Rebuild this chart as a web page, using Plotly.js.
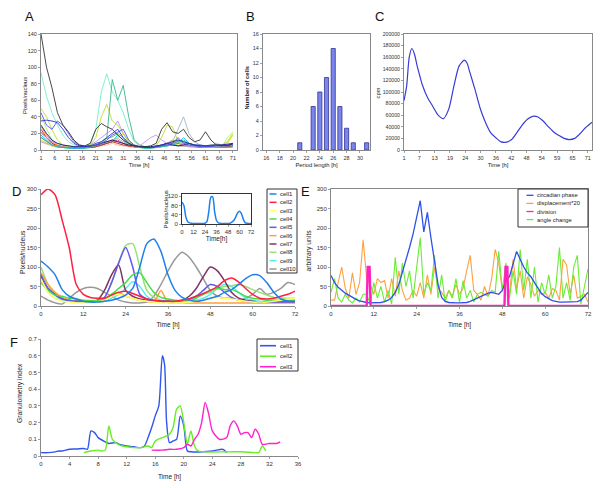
<!DOCTYPE html>
<html><head><meta charset="utf-8">
<script src="https://cdn.plot.ly/plotly-3.0.1.min.js"></script>
<style>html,body{margin:0;padding:0;background:#fff}#chart{width:600px;height:488px}</style>
</head><body><div id="chart"></div>
<script>
// ---------- Panel A: individual cells (pixels/nucleus) ----------
const aTime = [1,3,5,7,9,11,13,15,17,19,21,23,25,27,29,31,33,35,37,39,41,43,45,47,49,51,53,55,57,59,61,63,65,67,69,71];
const aBlack = [140,100,75,45,30,22, 12,6,5,8,25,32, 28,25,18,12,8,5, 4,4,5,8,25,33, 22,20,25,15,10,12, 22,12,6,5,5,8];
const aTeal = [15,10,6,4,3,3, 3,3,3,4,5,8, 15,85,60,78,40,12, 6,4,3,3,4,5, 8,10,12,8,6,5, 4,4,3,3,3,4];
const aAqua = [93,65,45,30,18,10, 6,5,5,8,25,70, 92,70,60,45,25,10, 5,4,3,3,4,6, 8,10,8,6,5,4, 4,3,3,3,3,3];
const aYellowGreen = [50,40,25,12,6,4, 3,3,3,6,15,40, 55,35,30,20,10,6, 4,3,3,5,15,30, 28,10,8,6,5,5, 4,5,8,6,10,20];
const aSteel = [10,8,6,5,4,4, 3,3,3,4,6,8, 10,12,14,10,6,4, 3,3,3,4,6,8, 10,25,40,20,10,6, 5,4,4,4,5,6];
const aViolet = [20,15,10,8,6,5, 4,4,5,6,10,15, 20,25,35,20,10,6, 5,10,15,18,12,8, 6,5,5,4,4,4, 3,3,3,4,5,6];
const aBlue1 = [35,36,35,33,25,15, 8,5,4,5,8,10, 15,20,25,15,8,5, 4,3,3,4,6,8, 10,12,10,8,6,6, 5,5,6,6,6,7];
const aBlue2 = [45,30,25,35,30,20, 10,6,4,5,6,8, 12,18,22,25,12,6, 4,3,3,4,5,6, 8,15,8,6,5,4, 4,4,5,5,6,6];
const aNavy = [30,20,12,8,6,5, 4,4,4,5,6,8, 10,12,10,8,6,5, 4,4,4,5,6,8, 6,5,6,8,6,5, 5,6,6,6,7,8];
const aRed = [25,15,8,5,4,3, 3,3,3,3,4,6, 8,10,8,6,5,4, 3,3,3,4,5,6, 8,10,8,6,5,4, 4,3,3,3,4,5];
const aOrange = [28,18,10,6,4,3, 3,3,3,4,5,8, 10,12,10,8,5,4, 3,3,3,4,6,8, 12,10,8,6,5,4, 4,4,3,4,5,8];
const aCyan = [18,12,6,4,3,2, 2,2,2,3,4,6, 8,10,18,12,6,4, 3,2,2,3,4,5, 6,8,15,8,5,4, 3,3,3,3,3,4];
const aGreen = [22,15,8,5,4,3, 3,3,3,4,6,10, 14,16,20,15,8,5, 4,3,3,4,6,8, 10,12,10,8,6,5, 4,4,4,4,5,6];
const aMagenta = [15,10,6,4,3,3, 2,2,3,3,4,6, 8,10,12,8,5,4, 3,3,3,4,5,7, 9,8,6,5,4,3, 3,3,3,3,4,5];
const aYellow = [12,8,5,3,3,2, 2,2,2,3,4,6, 8,12,15,20,10,5, 3,2,2,3,4,6, 8,6,5,4,3,3, 3,3,3,3,8,18];
const aLightGreen = [40,25,12,6,4,3, 3,3,3,4,5,7, 9,10,8,6,5,4, 3,3,3,3,4,5, 6,5,4,4,3,3, 3,3,3,4,15,22];
const aPink = [10,7,5,4,3,3, 3,3,3,3,4,5, 6,8,6,5,4,3, 3,3,3,3,4,5, 6,8,6,5,4,4, 3,3,3,4,10,18];
const aTicks = [1,6,11,16,21,26,31,36,41,46,51,56,61,66,71];

// ---------- Panel B: period length histogram ----------
const bPeriod = [21,23,24,25,26,27,28,29,31];
const bCells = [1,6,8,10,14,6,3,1,1];

// ---------- Panel C: luminescence (cpm) ----------
const cTime = [1,2,3,4,5,6,7,8,10,12,14,16,18,20,22,24,25,26,28,30,32,34,36,38,40,42,44,46,48,50,52,54,56,58,60,62,64,66,68,70,72.6];
const cCpm = [85000,110000,160000,175000,165000,145000,128000,112000,90000,75000,60000,54000,70000,110000,145000,155000,150000,135000,105000,72000,48000,30000,21000,14000,13500,18000,30000,43000,53000,58000,57000,50000,40000,31000,25000,20000,18000,20000,28000,38000,48000];
const cTickLabels = ['1','7','13','19','24','30','36','42','48','54','59','65','71'];

// ---------- Panel D: ten cells ----------
const dTime = [0,2,4,6,8,10,12,14,16,18,20,22,24,26,28,30,32,34,36,38,40,42,44,46,48,50,52,54,56,58,60,62,64,66,68,70,72];
const dNames = ['cell1','cell2','cell3','cell4','cell5','cell6','cell7','cell8','cell9','cell10'];
const dCell1 = [115,100,80,42,25,18,12,10,10,12, 15,20,28,45,100,160,172,140,80,40, 22,15,12,15,20,25,35,42,55,70, 80,78,60,35,18,13,12];
const dCell2 = [285,300,285,220,150,55,30,22,20,20, 28,35,38,32,25,18,15,12,12,12, 15,18,25,32,40,50,65,72,62,45, 30,20,18,20,25,30,38];
const dCell3 = [70,35,20,12,10,8,8,8,10,15, 25,30,25,20,15,12,10,8,8,8, 8,10,12,15,20,22,20,18,15,12, 10,10,10,12,15,18,20];
const dCell4 = [60,40,28,25,20,18,15,14,14,18, 30,45,60,80,85,60,35,22,18,15, 14,14,20,30,40,45,42,42,35,25, 20,18,15,15,15,15,15];
const dCell5 = [80,45,28,18,14,12,12,12,14,22, 60,110,150,100,30,18,14,12,12,12, 14,18,25,40,55,50,35,22,15,12, 10,10,10,10,10,10,10];
const dCell6 = [85,55,35,22,15,12,10,10,10,15, 30,35,25,20,15,12,10,40,8,8, 8,8,8,8,8,8,8,8,8,8, 8,8,8,8,8,8,8];
const dCell7 = [75,45,30,20,15,12,12,12,15,40, 80,105,40,25,18,15,12,12,12,12, 15,25,45,75,100,90,65,35,20,15, 12,10,10,10,10,10,10];
const dCell8 = [100,55,30,20,15,12,10,10,12,20, 60,110,155,160,100,40,22,15,12,12, 14,18,25,30,35,45,50,52,55,50, 42,35,28,22,20,20,20];
const dCell9 = [70,35,20,15,12,10,10,10,10,12, 20,30,45,62,50,25,15,12,10,10, 10,12,15,20,30,45,55,50,35,20, 15,12,10,10,10,10,10];
const dCell10 = [25,15,8,5,20,35,45,48,45,35, 25,15,10,8,8,10,25,55,90,120, 138,125,100,70,40,25,20,20,15,20, 30,45,30,35,45,60,55];
const dInset = [95,80,30,10,5,3,2,2,2,2, 2,2,3,10,55,115,118,55,15,5, 3,2,2,2,2,3,8,15,30,48, 55,45,20,5,3,2,2];

// ---------- Panel E: single cell parameters ----------
const eTime = [0,1,2,3,4,5,6,7,8,9,10,11,12,13,14,15,16,17,18,19,20,21,22,23,24,25,26,27,28,29,30,31,32,33,34,35,36,37,38,39,40,41,42,43,44,45,46,47,48,49,50,51,52,53,54,55,56,57,58,59,60,61,62,63,64,65,66,67,68,69,70,71,72];
const eNames = ['circadian phase','displacement*20','division','angle change'];
const ePhase = [78,60,48,40,33,28,22,17,13,10, 9,8,8,8,9,11,15,22,35,55, 85,115,150,185,230,270,190,240,175,110, 55,22,12,9,8,8,8,8,9,12, 16,20,25,30,33,35,32,30,40,65, 75,110,140,120,100,85,75,60,45,32, 24,18,14,12,10,10,10,10,10,11, 15,25,35];
const eDisplacement = [15,15,60,100,45,20,85,30,60,170, 70,55,30,70,60,65,20,70,25,90, 40,15,20,40,25,60,20,80,30,100, 45,35,20,40,25,55,30,45,90,130, 40,30,15,50,25,70,145,110,40,70, 30,120,45,90,20,75,55,25,40,30, 35,20,45,40,15,120,105,30,80,20, 25,30,10];
const eAngle = [35,70,20,10,30,15,8,20,10,30, 30,5,60,20,50,10,40,5,125,30, 110,50,90,20,100,175,30,60,40,130, 20,80,10,40,20,70,10,65,20,40, 10,30,35,30,25,40,35,140,40,110, 20,90,30,145,40,120,20,100,10,60, 30,80,20,50,150,20,60,15,100,130, 5,50,95];
const eDivTime = [0,10,10.3,10.8,11.1,48.6,48.9,49.4,49.7,72];
const eDivision = [0,0,100,100,0,0,100,100,0,0];

// ---------- Panel F: granulometry index ----------
const fNames = ['cell1','cell2','cell3'];
const f1Time = [0,1,2,2.5,3,4,5,6,6.5,7,7.5,8,9,9.5,10.5,11,12,13,14,14.5,15,15.5,16,16.5,17,17.3,17.6,18,18.5,19,19.5,20,20.5,21,24,25.5,26];
const f1Index = [0.02,0.02,0.025,0.03,0.03,0.04,0.042,0.045,0.04,0.15,0.14,0.11,0.085,0.075,0.08,0.07,0.06,0.055,0.05,0.06,0.11,0.17,0.24,0.3,0.6,0.55,0.2,0.08,0.09,0.1,0.24,0.18,0.03,0.025,0.03,0.04,0.02];
const f2Time = [6,7,8,8.5,9,9.5,10,11,12,13,14,15,15.5,16,17,18,18.5,19,19.5,20,20.5,21,21.5,22,26,28,30,30.5,31,31.5];
const f2Index = [0.02,0.03,0.035,0.03,0.035,0.18,0.1,0.065,0.055,0.05,0.05,0.06,0.05,0.09,0.11,0.13,0.17,0.28,0.3,0.2,0.07,0.15,0.06,0.03,0.025,0.025,0.02,0.02,0.06,0.03];
const f3Time = [15.5,17,18,19,20,20.5,21,21.5,22,22.5,23,23.5,24,25,26,26.5,27,27.5,28,28.5,29,29.5,30,30.5,31,32,33,33.5];
const f3Index = [0.035,0.035,0.04,0.04,0.05,0.07,0.06,0.1,0.13,0.2,0.32,0.25,0.15,0.1,0.11,0.18,0.21,0.18,0.13,0.14,0.14,0.11,0.16,0.13,0.07,0.075,0.075,0.085];

// ================= build =================
const W = 600, H = 488;
const FONT = 'Liberation Sans, Arial, sans-serif';
const px = p => p / W;
const py = p => 1 - p / H;

const traces = [];
function line(x, y, color, width, xa, ya, shape) {
  traces.push({type:'scatter', mode:'lines', x, y, xaxis:xa, yaxis:ya, showlegend:false,
    line:{color, width, shape: shape || 'linear', smoothing: 0.7}, hoverinfo:'skip'});
}

// A
const aSeries = [
  [aPink,'#ffb0a0'],[aLightGreen,'#a8f07a'],[aYellow,'#e6e600'],[aMagenta,'#d040d0'],[aGreen,'#30c030'],
  [aCyan,'#00c0f0'],[aOrange,'#ff8a00'],[aRed,'#e02020'],[aViolet,'#c090ff'],[aSteel,'#a0b4c4'],
  [aYellowGreen,'#b8e030'],[aAqua,'#70f0c8'],[aTeal,'#3cb48c'],[aNavy,'#151570'],[aBlue2,'#5050ff'],
  [aBlue1,'#3030c8'],[aBlack,'#333333']
];
aSeries.forEach(([y,c]) => line(aTime, y, c, 0.9, 'x', 'y'));

// B
traces.push({type:'bar', x:bPeriod, y:bCells, xaxis:'x2', yaxis:'y2', width:0.62, showlegend:false,
  marker:{color:'#7b86ec', line:{color:'#343494', width:0.8}}, hoverinfo:'skip'});

// C
line(cTime, cCpm, '#3a3ad8', 1.2, 'x3', 'y3', 'spline');

// D
const dSeries = [dCell1,dCell2,dCell3,dCell4,dCell5,dCell6,dCell7,dCell8,dCell9,dCell10];
const dColors = ['#1e80f0','#ff2040','#ffff66','#44e044','#6655ee','#ffa040','#803366','#99e077','#55eeee','#999999'];
for (let i = dSeries.length - 1; i >= 0; i--) line(dTime, dSeries[i], dColors[i], 1.5, 'x4', 'y4', 'spline');
line(dTime, dInset, '#1e80f0', 1.5, 'x5', 'y5', 'spline');

// E
const eColors = ['#3050e8','#ffa040','#ff20c0','#66ee33'];
line(eTime, eDisplacement, eColors[1], 1.1, 'x6', 'y6');
line(eTime, eAngle, eColors[3], 1.1, 'x6', 'y6');
line(eTime, ePhase, eColors[0], 1.3, 'x6', 'y6');
line(eDivTime, eDivision, eColors[2], 2.4, 'x6', 'y6');

// F
const fColors = ['#3355ee','#66ee22','#ff22cc'];
line(f1Time, f1Index, fColors[0], 1.4, 'x7', 'y7', 'spline');
line(f2Time, f2Index, fColors[1], 1.4, 'x7', 'y7', 'spline');
line(f3Time, f3Index, fColors[2], 1.4, 'x7', 'y7', 'spline');

// axes
const tf = s => ({family:FONT, size:s, color:'#333'});
function axis(d0, d1, isX, fs, extra) {
  return Object.assign({
    domain: isX ? [px(d0), px(d1)] : [py(d1), py(d0)],
    showgrid:false, zeroline:false, showline:true, linecolor:'#888', linewidth:1,
    ticks:'outside', ticklen:2, tickcolor:'#888', tickwidth:0.8,
    tickfont:tf(fs), fixedrange:true
  }, extra);
}
const ttl = (t, s, fs) => ({text:t, font:{family:FONT, size:fs || 6, color:'#222'}, standoff: s});

const cTickVals = cTickLabels.map((_, i) => 1 + i * 70 / 12);

const layout = {
  width:W, height:H, margin:{l:0,r:0,t:0,b:0}, paper_bgcolor:'#fff', plot_bgcolor:'rgba(0,0,0,0)',
  font:{family:FONT, size:6, color:'#222'}, showlegend:false,
  xaxis: axis(41,237,true,5.5,{anchor:'y', range:[1,72.5], tickvals:aTicks, mirror:true, title:ttl('Time [h]',3,5.8)}),
  yaxis: axis(34,150,false,5.5,{anchor:'x', range:[0,140], dtick:20, mirror:true}),
  xaxis2: axis(263,370,true,5.5,{anchor:'y2', range:[15.5,31.5], tick0:16, dtick:2, mirror:true, title:ttl('Period length [h]',3,5.8)}),
  yaxis2: axis(34,150,false,5.5,{anchor:'x2', range:[0,16], dtick:2, mirror:true}),
  xaxis3: axis(404,592,true,5.5,{anchor:'y3', range:[1,72.6], tickvals:cTickVals, ticktext:cTickLabels, mirror:true, title:ttl('Time [h]',3,5.8)}),
  yaxis3: axis(34,150,false,5.2,{anchor:'x3', range:[0,200000], dtick:20000, tickformat:'d', mirror:true}),
  xaxis4: axis(41,295,true,6,{anchor:'y4', range:[0,72], dtick:12, title:ttl('Time [h]',6,6.5)}),
  yaxis4: axis(189,306,false,6,{anchor:'x4', range:[0,300], dtick:50}),
  xaxis5: axis(182,251,true,6,{anchor:'y5', range:[0,72], dtick:12, mirror:true, linecolor:'#333', title:ttl('Time[h]',1,6.5)}),
  yaxis5: axis(194,224,false,6,{anchor:'x5', range:[0,130], tickvals:[0,40,80,120], mirror:true, linecolor:'#333'}),
  xaxis6: axis(331,588,true,6,{anchor:'y6', range:[0,72], dtick:12, mirror:true, title:ttl('Time [h]',6,6.5)}),
  yaxis6: axis(189,306,false,6,{anchor:'x6', range:[0,300], dtick:50, mirror:true}),
  xaxis7: axis(41,298,true,6,{anchor:'y7', range:[0,36], dtick:4, title:ttl('Time [h]',8,6.5)}),
  yaxis7: axis(339,456,false,6,{anchor:'x7', range:[0,0.7], dtick:0.1}),
  shapes:[], annotations:[]
};

// y-axis titles (rotated text placed beside each axis)
const yTitles = [
  ['Pixels/nucleus',25,96,5.8],['<b>Number of cells</b>',246.5,88,5.8],['cpm',377.5,93,5.8],
  ['Pixels/nucleus',22,252,6.8],['Pixels/nucleus',165.5,210,6],['arbitrary units',308.5,251,6.8],
  ['Granulometry index',20,393,6.8]
];
yTitles.forEach(([t,x,y,s]) => layout.annotations.push({text:t, x:px(x), y:py(y), xref:'paper', yref:'paper',
  showarrow:false, textangle:-90, xanchor:'center', yanchor:'middle', font:{family:FONT, size:s, color:'#222'}}));

// panel letters
const letters = [['A',29.5,16.5],['B',250.5,16.5],['C',379,16.5],['D',16,191.5],['E',305.5,191.5],['F',13.5,342.5]];
letters.forEach(([t,x,y]) => layout.annotations.push({text:t, x:px(x), y:py(y), xref:'paper', yref:'paper',
  showarrow:false, xanchor:'center', yanchor:'middle', font:{family:FONT, size:13, color:'#111'}}));

// manual legends
function legend(names, colors, box, rowY0, dy, sx0, sx1, tx, lw, fs) {
  layout.shapes.push({type:'rect', xref:'paper', yref:'paper', x0:px(box[0]), x1:px(box[1]), y0:py(box[3]), y1:py(box[2]),
    line:{color:'#333', width:1}, fillcolor:'#fff', layer:'above'});
  names.forEach((n, i) => {
    const y = rowY0 + i * dy;
    layout.shapes.push({type:'line', xref:'paper', yref:'paper', x0:px(sx0), x1:px(sx1), y0:py(y), y1:py(y),
      line:{color:colors[i], width:lw}, layer:'above'});
    layout.annotations.push({text:n, x:px(tx), y:py(y), xref:'paper', yref:'paper', showarrow:false,
      xanchor:'left', yanchor:'middle', font:{family:FONT, size:fs, color:'#222'}});
  });
}
legend(dNames, dColors, [267,297,189,273], 194, 8.33, 269.5, 276.5, 277.5, 1.5, 6);
legend(eNames, eColors, [518,588,189,227], 195.3, 8.1, 526.5, 533.5, 535, 1.3, 5.8);
legend(fNames, fColors, [257,298,339,371], 345.7, 10.5, 260, 276, 277.5, 1.6, 6);

Plotly.newPlot('chart', traces, layout, {staticPlot:true});
</script></body></html>
